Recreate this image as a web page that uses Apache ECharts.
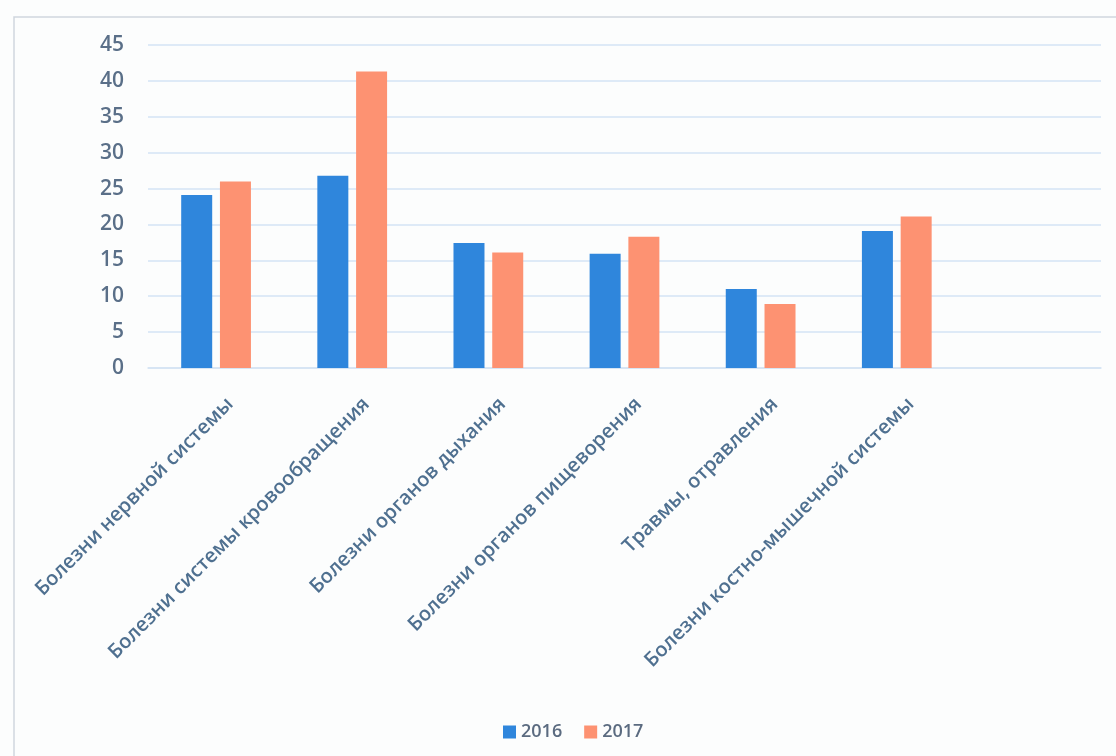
<!DOCTYPE html>
<html>
<head>
<meta charset="utf-8">
<script src="https://cdn.jsdelivr.net/npm/echarts@6/dist/echarts.min.js"></script>
<style>
  html, body { margin: 0; padding: 0; background: #fcfdfd; }
  #chart { width: 1116px; height: 756px; }
</style>
</head>
<body>
<div id="chart"></div>
<script>
// Disease groups (the last slot is left empty)
const categories = [
  'Болезни нервной системы',
  'Болезни системы кровообращения',
  'Болезни органов дыхания',
  'Болезни органов пищеворения',
  'Травмы, отравления',
  'Болезни костно-мышечной системы',
  ''
];
const values2016 = [24.1, 26.8, 17.4, 15.9, 11.0, 19.1, null];
const values2017 = [26.0, 41.3, 16.1, 18.3, 8.9, 21.1, null];
const seriesNames = ['2016', '2017'];
const yTicks = { min: 0, max: 45, interval: 5 };

const chart = echarts.init(document.getElementById('chart'), null, { renderer: 'canvas' });
const gridColor = '#d5e3f4';
const font = '"Open Sans", Lato, sans-serif';

chart.setOption({
  backgroundColor: '#fcfdfd',
  animation: false,
  // thin frame around the chart area
  graphic: [
    {
      type: 'rect',
      silent: true,
      shape: { x: 14, y: 17, width: 1130, height: 760 },
      style: { fill: 'none', stroke: '#cfd6de', lineWidth: 1.5 }
    }
  ],
  grid: { left: 148, right: 15, top: 45, bottom: 388, containLabel: false },
  legend: {
    data: seriesNames,
    left: 498,
    top: 718,
    icon: 'rect',
    itemWidth: 13,
    itemHeight: 13,
    itemGap: 22,
    textStyle: { fontFamily: font, fontSize: 18, fontWeight: 600, color: '#5b6b80' }
  },
  xAxis: {
    type: 'category',
    data: categories,
    axisLine: { show: true, lineStyle: { color: gridColor, width: 1.5 } },
    axisTick: { show: false },
    axisLabel: {
      rotate: 45,
      interval: 0,
      margin: 19,
      verticalAlign: 'top',
      lineHeight: 40,
      fontFamily: font,
      fontSize: 20,
      fontWeight: 600,
      color: '#4f7090'
    }
  },
  yAxis: {
    type: 'value',
    min: yTicks.min,
    max: yTicks.max,
    interval: yTicks.interval,
    axisLine: { show: false },
    axisTick: { show: false },
    splitLine: { lineStyle: { color: gridColor, width: 1.5 } },
    axisLabel: {
      margin: 24,
      fontFamily: font,
      fontSize: 21,
      fontWeight: 600,
      color: '#5a6f88'
    }
  },
  series: [
    {
      name: seriesNames[0],
      type: 'bar',
      data: values2016,
      barWidth: 31,
      barGap: '25%',
      itemStyle: { color: '#2f86dc' }
    },
    {
      name: seriesNames[1],
      type: 'bar',
      data: values2017,
      barWidth: 31,
      barGap: '25%',
      itemStyle: { color: '#fd9272' }
    }
  ]
});
</script>
</body>
</html>
